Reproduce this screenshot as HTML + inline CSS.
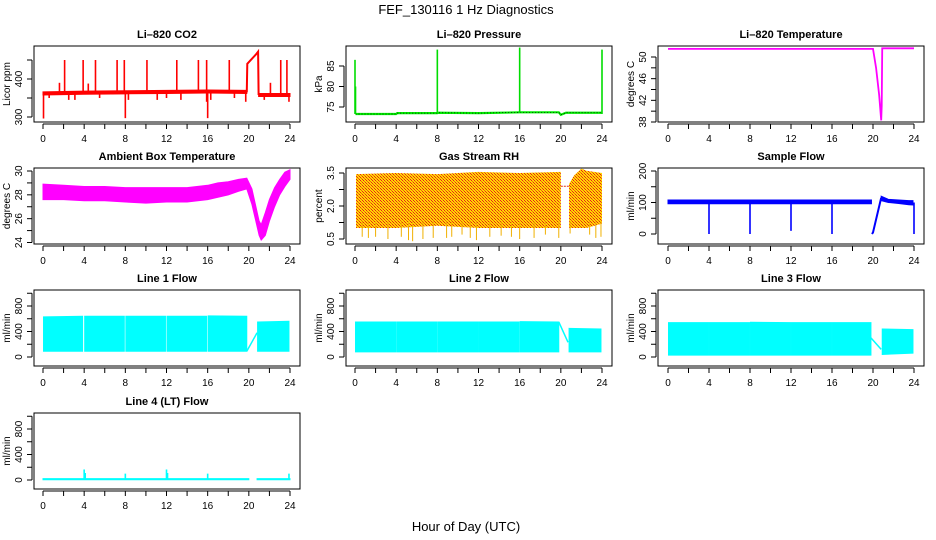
<!DOCTYPE html>
<html><head><meta charset="utf-8">
<style>
html,body{margin:0;padding:0;background:#fff;}
svg{display:block;font-family:"Liberation Sans",Arial,sans-serif;}
.t{font-size:11px;font-weight:bold;text-anchor:middle;}
.tk{font-size:10px;text-anchor:middle;}
</style></head>
<body>
<svg id="chart" width="936" height="540" viewBox="0 0 936 540">
<defs>
<pattern id="rhpat" width="3" height="3" patternUnits="userSpaceOnUse">
<rect width="3" height="3" fill="#ffd800"/>
<rect x="0" y="0" width="1" height="1" fill="#e8201a"/>
<rect x="1" y="1" width="1" height="1" fill="#f06010"/>
<rect x="2" y="2" width="1" height="1" fill="#e8201a"/>
</pattern>
</defs>
<text x="466" y="14" font-size="13" text-anchor="middle">FEF_130116  1 Hz Diagnostics</text>
<text x="466" y="531" font-size="13" text-anchor="middle">Hour of Day (UTC)</text>
</svg>
<script>
// ---- data (hours 0..24) ----
const xTicks=[0,2,4,6,8,10,12,14,16,18,20,22,24];
const xTickLabels=["0","","4","","8","","12","","16","","20","","24"];

// CO2
const co2T=[0,4,8,12,16,19.8,null,20.95,24];
const co2Lo=[358,360,361,362,363,362,null,354,354];
const co2Hi=[366,368,369,370,371,370,null,362,362];
const co2RampT=[19.8,19.85,20.7,20.9,20.95];
const co2RampV=[365,440,465,472,358];
const co2SpikeT=[0.05,0.6,1.6,2.1,2.5,3.1,3.9,4.4,5.1,5.5,7.2,7.9,8.0,8.3,10.1,11.1,12.0,13.0,13.4,15.1,15.9,16.0,16.3,18.1,18.6,19.7,21.5,22.1,23.1,23.7,23.9];
const co2SpikeLo=[296,350,362,362,345,345,362,362,362,350,362,362,297,345,362,345,350,362,345,362,340,297,345,365,350,340,345,355,355,355,340];
const co2SpikeHi=[365,366,390,450,366,366,450,388,450,366,450,450,366,366,450,366,366,450,366,450,450,366,366,450,368,368,362,390,450,450,358];

// Pressure
const prT=[0.05,4,4.1,8,8.1,12,16,19.8,20,20.5,24];
const prV=[73.3,73.3,73.5,73.5,73.6,73.5,73.7,73.7,73.1,73.6,73.6];
const prSpikeT=[0,0.05,8,16,24];
const prSpikeLo=[73.3,73.3,73.5,73.6,73.3];
const prSpikeHi=[86.5,80,89,89.5,89];

// Li-820 temperature
const ltT=[0,20.0,20.3,20.6,20.8,20.85,20.9,24];
const ltV=[51.5,51.5,48,43,38.3,41,51.6,51.6];

// Ambient box temperature
const abT=[0,2,4,6,8,10,12,14,16,17,18,19,19.8,20.3,21,21.2,21.6,22,22.5,23,23.5,24];
const abLo=[27.6,27.6,27.5,27.5,27.4,27.3,27.4,27.4,27.6,27.8,28,28.3,28.5,27.2,24.6,24.2,24.6,25.8,27,28,28.7,29.3];
const abHi=[28.9,28.8,28.7,28.7,28.6,28.6,28.6,28.6,28.8,29,29.1,29.3,29.4,28.5,25.8,25.5,26.5,27.6,28.6,29.3,29.9,30.1];

// Gas stream RH
const rhT=[0.1,4,8,12,16,20,null,20.8,21.3,22,22.5,24];
const rhLo=[1.0,1.0,1.1,1.0,1.0,1.0,null,1.0,1.0,1.0,1.0,1.2];
const rhHi=[3.45,3.5,3.45,3.55,3.5,3.55,null,3.0,3.4,3.7,3.6,3.5];
const rhDropT=[0.7,1.3,2.0,3.2,4.5,5.2,5.6,6.6,7.6,8.9,9.4,10.4,11.2,11.8,13.1,14.2,15.2,16.0,17.4,18.5,19.8,20.9,22.8,23.4,23.9];
const rhDropV=[0.6,0.55,0.6,0.5,0.6,0.45,0.4,0.5,0.55,0.55,0.6,0.7,0.55,0.45,0.6,0.65,0.6,0.5,0.55,0.7,0.55,0.75,0.7,0.55,0.6];
const rhFlatT=[20,20.8];
const rhFlatV=[2.9,2.9];

// Sample flow
const sfT=[0,19.85,null,20.8,21.5,22.5,23.5,23.9];
const sfLo=[96,96,null,106,100,97,93,92];
const sfHi=[108,108,null,120,110,108,106,106];
const sfRampT=[19.9,20.0,20.8];
const sfRampV=[0,5,115];
const sfDropT=[4,8,12,16,24];
const sfDropV=[0,0,10,0,0];

// Line flows
const l1T=[0.05,3.85,null,4.05,7.9,null,8.05,11.9,null,12.05,15.9,null,16.05,19.8,null,20.85,23.9];
const l1Lo=[90,90,null,90,90,null,90,90,null,90,90,null,90,90,null,90,90];
const l1Hi=[630,640,null,640,640,null,640,640,null,640,640,null,645,640,null,550,560];
const l1DiagT=[19.8,20.8];
const l1DiagV=[90,380];

const l2T=[0.05,3.95,null,4.05,7.95,null,8.05,11.95,null,12.05,15.95,null,16.05,19.8,null,20.8,23.9];
const l2Lo=[80,80,null,80,80,null,80,80,null,80,80,null,80,80,null,80,80];
const l2Hi=[550,550,null,550,550,null,550,550,null,550,550,null,555,550,null,450,440];
const l2DiagT=[19.8,20.7];
const l2DiagV=[550,230];

const l3T=[0.05,3.95,null,4.05,7.95,null,8.05,11.95,null,12.05,15.95,null,16.05,19.8,null,20.9,23.9];
const l3Lo=[30,30,null,30,30,null,30,30,null,30,30,null,30,30,null,40,60];
const l3Hi=[540,540,null,540,540,null,545,540,null,540,540,null,540,540,null,440,430];
const l3DiagT=[19.8,20.8];
const l3DiagV=[300,120];

const l4T=[0,20,null,20.8,24];
const l4Lo=[4,4,null,4,4];
const l4Hi=[22,22,null,22,22];
const l4SpikeT=[4,4.1,8,12,12.1,16,23.9];
const l4SpikeV=[165,110,100,165,110,100,100];

// ---- drawing ----
const svg=document.getElementById('chart');
const NS='http://www.w3.org/2000/svg';
function el(tag,attrs,parent){const e=document.createElementNS(NS,tag);for(const k in attrs)e.setAttribute(k,attrs[k]);(parent||svg).appendChild(e);return e;}

const cols=[{bx0:34,bx1:300,x0:43,x24:290},{bx0:346,bx1:612,x0:355,x24:602},{bx0:658,bx1:924,x0:668,x24:914}];
const rows=[{top:46,bot:122},{top:168,bot:244},{top:290,bot:366},{top:413,bot:489}];

function panel(name,title,c,r,yA,yAp,yB,yBp,ticks,labels,ytitle){
  const C=cols[c],R=rows[r];
  const g=el('g',{});
  
  
  const sx=t=>C.x0+(C.x24-C.x0)*t/24;
  const sy=v=>yAp+(v-yA)*(yBp-yAp)/(yB-yA);
  const tt=el('text',{x:(C.bx0+C.bx1)/2,y:R.top-8,class:'t'},g);tt.textContent=title;
  
  
  const box=el('rect',{x:C.bx0,y:R.top,width:C.bx1-C.bx0,height:R.bot-R.top,fill:'none',stroke:'#000','stroke-width':1},g);
  
  
  // x axis
  const ay=R.bot+2;
  const xa=el('g',{},g);
  
  
  el('line',{x1:sx(0),x2:sx(24),y1:ay,y2:ay,stroke:'#000'},xa);
  xTicks.forEach((t,i)=>{el('line',{x1:sx(t),x2:sx(t),y1:ay,y2:ay+5,stroke:'#000'},xa);
    if(xTickLabels[i]){const tx=el('text',{x:sx(t),y:ay+18,class:'tk'},xa);tx.textContent=xTickLabels[i];}});
  // y axis
  const ax=C.bx0-2;
  const ya=el('g',{},g);
  
  
  el('line',{x1:ax,x2:ax,y1:sy(ticks[0]),y2:sy(ticks[ticks.length-1]),stroke:'#000'},ya);
  ticks.forEach((v,i)=>{el('line',{x1:ax-5,x2:ax,y1:sy(v),y2:sy(v),stroke:'#000'},ya);
    if(labels[i]){const tx=el('text',{x:ax-10,y:sy(v),class:'tk',transform:`rotate(-90 ${ax-10} ${sy(v)})`},ya);tx.textContent=labels[i];}});
  const yt=el('text',{x:C.bx0-24,y:(R.top+R.bot)/2,class:'tk',transform:`rotate(-90 ${C.bx0-24} ${(R.top+R.bot)/2})`},g);
  yt.textContent=ytitle;
  
  
  const clipId='c'+name;
  const cp=el('clipPath',{id:clipId},g);el('rect',{x:C.bx0,y:R.top,width:C.bx1-C.bx0,height:R.bot-R.top},cp);
  const d=el('g',{'clip-path':`url(#${clipId})`},g);
  
  
  return {sx,sy,g:d};
}
function band(P,T,lo,hi,fill,name){
  let seg=[];const segs=[];
  T.forEach((t,i)=>{if(t===null){if(seg.length)segs.push(seg);seg=[];}else seg.push(i);});
  if(seg.length)segs.push(seg);
  segs.forEach(s=>{
    const pts=s.map(i=>P.sx(T[i])+','+P.sy(hi[i])).concat(s.slice().reverse().map(i=>P.sx(T[i])+','+P.sy(lo[i])));
    const p=el('polygon',{points:pts.join(' '),fill:fill,stroke:fill.startsWith('url')?'none':fill,'stroke-width':1},P.g);
    
    
  });
}
function line(P,T,V,col,w,name,dash){
  const pts=T.map((t,i)=>P.sx(t)+','+P.sy(V[i])).join(' ');
  const a={points:pts,fill:'none',stroke:col,'stroke-width':w};if(dash)a['stroke-dasharray']=dash;
  const p=el('polyline',a,P.g);
  
  
}
function spikes(P,T,lo,hi,col,w,name){
  T.forEach((t,i)=>{const l=el('line',{x1:P.sx(t),x2:P.sx(t),y1:P.sy(lo[i]),y2:P.sy(hi[i]),stroke:col,'stroke-width':w},P.g);
    
    });
}

// CO2
let P=panel('co2-panel','Li\u2013820 CO2',0,0,300,117,400,79,[300,350,400,450],['300','','400',''],'Licor ppm');
band(P,co2T,co2Lo,co2Hi,'#ff0000','co2-series');
line(P,co2RampT,co2RampV,'#ff0000',2,'co2-ramp');
spikes(P,co2SpikeT,co2SpikeLo,co2SpikeHi,'#ff0000',1.6,'co2-spike');

// Pressure
P=panel('pressure-panel','Li\u2013820 Pressure',1,0,75,107,85,66,[75,80,85],['75','80','85'],'kPa');
line(P,prT,prV,'#00ee00',2.2,'pressure-series');
line(P,prT,prV,'#000',0.7,'pressure-series-dots','1 2');
spikes(P,prSpikeT,prSpikeLo,prSpikeHi,'#00dd00',1.6,'pressure-spike');

// Li temp
P=panel('li-temp-panel','Li\u2013820 Temperature',2,0,38,122,50,57,[38,40,42,44,46,48,50],['38','','42','','46','','50'],'degrees C');
line(P,ltT,ltV,'#ff00ff',1.8,'li-temp-series');

// Ambient
P=panel('ambient-temp-panel','Ambient Box Temperature',0,1,24,242.5,30,171,[24,25,26,27,28,29,30],['24','','26','','28','','30'],'degrees C');
band(P,abT,abLo,abHi,'#ff00ff','ambient-temp-series');

// RH
P=panel('rh-panel','Gas Stream RH',1,1,0.5,239,3.5,173,[0.5,1.25,2.0,2.75,3.5],['0.5','','2.0','','3.5'],'percent');
band(P,rhT,rhLo,rhHi,'url(#rhpat)','rh-series');
spikes(P,rhDropT,rhDropV,rhDropV.map(()=>1.3),'#f0b000',1,'rh-drop');
line(P,rhFlatT,rhFlatV,'#e03010',1,'rh-gap-line','2 1');

// Sample flow
P=panel('sample-flow-panel','Sample Flow',2,1,0,234,200,171,[0,50,100,150,200],['0','','100','','200'],'ml/min');
band(P,sfT,sfLo,sfHi,'#0000ff','sample-flow-series');
line(P,sfRampT,sfRampV,'#0000ff',2,'sample-flow-ramp');
spikes(P,sfDropT,sfDropV,sfDropT.map(()=>100),'#0000ff',1.6,'sample-flow-drop');

// Line flows
const lt=[0,200,400,600,800,1000],ll=['0','','400','','800',''];
P=panel('line1-flow-panel','Line 1 Flow',0,2,0,357,800,306,lt,ll,'ml/min');
band(P,l1T,l1Lo,l1Hi,'#00ffff','line1-flow-series');
line(P,l1DiagT,l1DiagV,'#00ffff',1.5,'line1-flow-diag');
P=panel('line2-flow-panel','Line 2 Flow',1,2,0,357,800,306,lt,ll,'ml/min');
band(P,l2T,l2Lo,l2Hi,'#00ffff','line2-flow-series');
line(P,l2DiagT,l2DiagV,'#00ffff',1.5,'line2-flow-diag');
P=panel('line3-flow-panel','Line 3 Flow',2,2,0,357,800,306,lt,ll,'ml/min');
band(P,l3T,l3Lo,l3Hi,'#00ffff','line3-flow-series');
line(P,l3DiagT,l3DiagV,'#00ffff',1.5,'line3-flow-diag');
P=panel('line4-flow-panel','Line 4 (LT) Flow',0,3,0,480,800,429,lt,ll,'ml/min');
band(P,l4T,l4Lo,l4Hi,'#00ffff','line4-flow-series');
spikes(P,l4SpikeT,l4SpikeT.map(()=>10),l4SpikeV,'#00ffff',1.6,'line4-flow-spike');
</script>
</body></html>
